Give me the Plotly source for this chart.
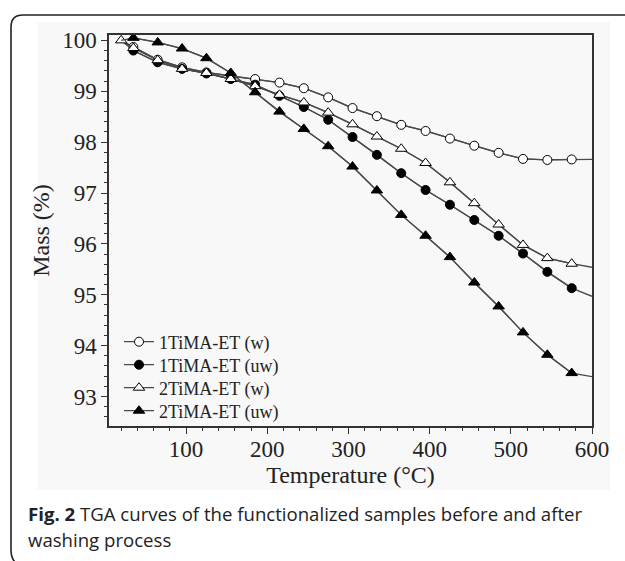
import plotly.graph_objects as go

# ---------------- data ----------------
temps = [20, 35, 65, 95, 125, 155, 185, 215, 245, 275, 305, 335, 365, 395,
         425, 455, 485, 515, 545, 575, 600]

mass_1w = [100.0, 99.87, 99.62, 99.47, 99.37, 99.30, 99.24, 99.17, 99.06, 98.88,
           98.67, 98.51, 98.34, 98.22, 98.07, 97.93, 97.79, 97.67, 97.65, 97.66, 97.66]
mass_1uw = [100.0, 99.80, 99.57, 99.44, 99.35, 99.24, 99.13, 98.91, 98.69, 98.44,
            98.10, 97.75, 97.39, 97.06, 96.77, 96.47, 96.16, 95.81, 95.45, 95.13, 94.97]
mass_2w = [100.0, 99.85, 99.61, 99.44, 99.36, 99.24, 99.10, 98.93, 98.78, 98.58,
           98.35, 98.11, 97.87, 97.59, 97.21, 96.80, 96.38, 95.98, 95.72, 95.61, 95.54]
mass_2uw = [100.0, 100.05, 99.96, 99.84, 99.65, 99.36, 98.98, 98.60, 98.26, 97.92,
            97.52, 97.05, 96.57, 96.16, 95.74, 95.24, 94.77, 94.26, 93.82, 93.46, 93.39]

series_names = ["1TiMA-ET (w)", "1TiMA-ET (uw)", "2TiMA-ET (w)", "2TiMA-ET (uw)"]
x_ticks = [100, 200, 300, 400, 500, 600]
y_ticks = [93, 94, 95, 96, 97, 98, 99, 100]

caption_bold = "Fig. 2"
caption_line1 = " TGA curves of the functionalized samples before and after"
caption_line2 = "washing process"

# ---------------- layout geometry ----------------
W, H = 625, 561
L, R, T, B = 109, 592, 35, 426


def px(xp):
    return (xp - L) / (R - L)


def py(yp):
    return (B - yp) / (B - T)


serif = "Liberation Serif, Times New Roman, serif"
line_col = "#4a4a4a"

styles = [
    dict(symbol="circle", color="white", size=9, first=1),
    dict(symbol="circle", color="black", size=9, first=1),
    dict(symbol="triangle-up", color="white", size=10, first=0),
    dict(symbol="triangle-up", color="black", size=10, first=1),
]
all_mass = [mass_1w, mass_1uw, mass_2w, mass_2uw]
legend_ids = ["legend", "legend2", "legend3", "legend4"]
legend_rows = [342, 365, 388, 411]

fig = go.Figure()
for name, m, st, lg in zip(series_names, all_mass, styles, legend_ids):
    # full curve
    fig.add_trace(go.Scatter(x=temps, y=m, mode="lines",
                             line=dict(color=line_col, width=1.3),
                             showlegend=False, hoverinfo="skip"))
    # marked points
    fig.add_trace(go.Scatter(x=temps[st["first"]:-1], y=m[st["first"]:-1],
                             mode="lines+markers", name=name, legend=lg,
                             line=dict(color=line_col, width=1.3),
                             marker=dict(symbol=st["symbol"], size=st["size"],
                                         color=st["color"],
                                         line=dict(color="black", width=1))))

shapes = [
    # faint grey image background
    dict(type="rect", xref="paper", yref="paper", layer="below",
         x0=px(37), x1=px(610), y0=py(490), y1=py(22),
         fillcolor="#f8f8f8", line=dict(width=0)),
    # rounded border of the figure panel
    dict(type="path", xref="paper", yref="paper",
         path=(f"M {px(22)},{py(566)} Q {px(11)},{py(563)} {px(11)},{py(550)} "
               f"L {px(11)},{py(27)} Q {px(11)},{py(15)} {px(23)},{py(15)} "
               f"L {px(640)},{py(15)}"),
         line=dict(color="#222222", width=1.6)),
]

annotations = [
    dict(xref="paper", yref="paper", x=px(26), y=py(513), xanchor="left",
         yanchor="middle", showarrow=False, align="left",
         text=f"<b>{caption_bold}</b>{caption_line1}",
         font=dict(family="Open Sans, sans-serif", size=18.6, color="#222222")),
    dict(xref="paper", yref="paper", x=px(26), y=py(539), xanchor="left",
         yanchor="middle", showarrow=False, align="left",
         text=caption_line2,
         font=dict(family="Open Sans, sans-serif", size=18.6, color="#222222")),
]

legend_common = dict(xanchor="left", yanchor="middle", bgcolor="rgba(0,0,0,0)",
                     font=dict(family=serif, size=18, color="#222222"),
                     itemwidth=30, borderwidth=0)
legend_layout = {}
for lg, row in zip(legend_ids, legend_rows):
    legend_layout[lg] = dict(x=px(119), y=py(row), **legend_common)

fig.update_layout(
    width=W, height=H,
    margin=dict(l=L, r=W - R, t=T, b=H - B),
    paper_bgcolor="white", plot_bgcolor="white",
    font=dict(family=serif, size=20, color="#222222"),
    shapes=shapes, annotations=annotations,
    xaxis=dict(range=[5, 600], tickvals=x_ticks, ticks="outside", ticklen=6,
               tickwidth=1.2, tickcolor="#333", showline=True, linecolor="#333",
               linewidth=1.5, mirror=True, showgrid=False, zeroline=False,
               minor=dict(dtick=20, tick0=0, ticks="outside", ticklen=3.5,
                          tickcolor="#333", showgrid=False),
               ticklabelstandoff=-4,
               title=dict(text="Temperature (°C)", font=dict(size=24), standoff=0),
               tickfont=dict(size=23)),
    yaxis=dict(range=[92.42, 100.106], tickvals=y_ticks, ticks="outside", ticklen=6,
               tickwidth=1.2, tickcolor="#333", showline=True, linecolor="#333",
               linewidth=1.5, mirror=True, showgrid=False, zeroline=False,
               minor=dict(dtick=0.2, tick0=0, ticks="outside", ticklen=3.5,
                          tickcolor="#333", showgrid=False),
               title=dict(text="Mass (%)", font=dict(size=24), standoff=6),
               tickfont=dict(size=23)),
    **legend_layout,
)

fig.write_html("out.html", config={"displayModeBar": False},
               post_script="document.body.style.margin='0px';")
